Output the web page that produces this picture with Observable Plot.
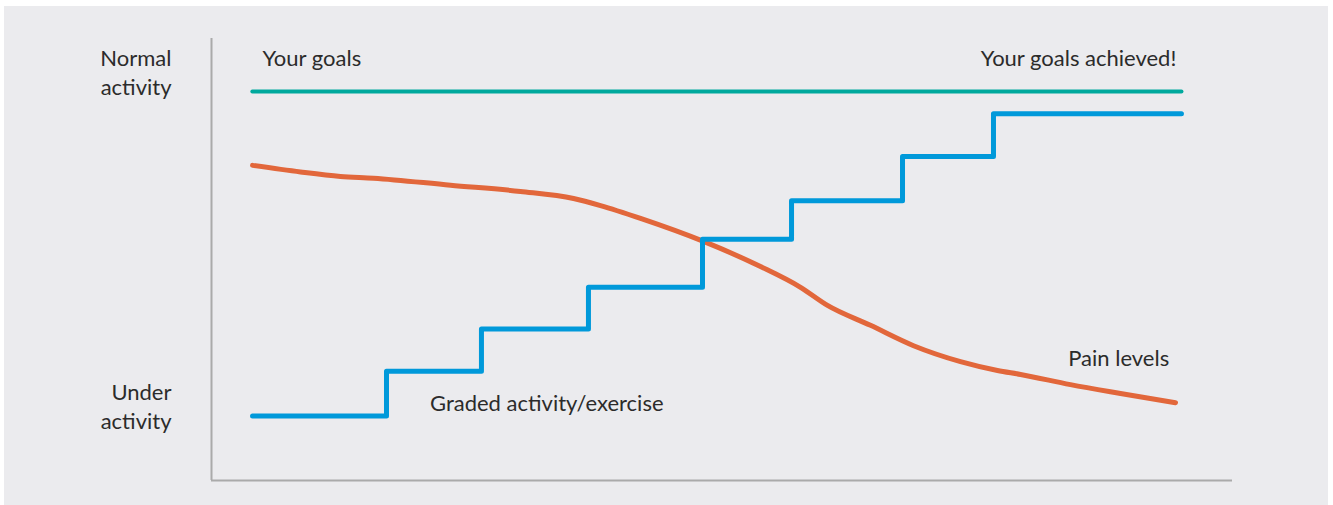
<!DOCTYPE html>
<html>
<head>
<meta charset="utf-8">
<script src="https://cdn.jsdelivr.net/npm/d3@7"></script>
<script src="https://cdn.jsdelivr.net/npm/@observablehq/plot@0.6"></script>
<style>
  html, body { margin: 0; padding: 0; background: #ffffff; }
  #wrap { position: absolute; left: 4px; top: 6px; width: 1324px; height: 499px; background: #ebebee; }
  svg { display: block; }
</style>
</head>
<body>
<div id="wrap"></div>
<script>
// Time axis (arbitrary units 0-100) and activity level (0-100)
const goalX = [4.0, 95.0];
const goalY = [88.0, 88.0];

const stepX = [4.02, 17.14, 26.44, 36.92, 48.09, 56.81, 67.68, 76.59, 95.0];
const stepY = [14.6, 24.7, 34.3, 43.7, 54.6, 63.3, 73.3, 83.0, 83.0];

const painX = [4.02, 8.72, 12.63, 15.87, 23.41, 30.26, 35.46, 38.10, 42.02, 48.19, 53.77, 57.69, 60.33, 64.54, 68.76, 73.36, 76.98, 79.24, 84.13, 89.03, 94.42];
const painY = [71.3, 69.8, 68.8, 68.4, 66.8, 65.4, 63.8, 62.2, 59.3, 54.1, 48.4, 43.7, 39.6, 35.1, 30.5, 26.9, 24.9, 24.0, 21.7, 19.7, 17.6];

const axisLabels = ["Normal\nactivity", "Under\nactivity"];
const axisLabelY = [92.6, 17.0];

const noteText = ["Your goals", "Your goals achieved!", "Graded activity/exercise", "Pain levels"];
const noteX = [5.0, 94.5, 21.4, 93.8];
const noteY = [95.4, 95.4, 17.4, 27.5];
const noteAnchor = ["start", "end", "start", "end"];

const goal = goalX.map((x, i) => ({x, y: goalY[i]}));
const steps = stepX.map((x, i) => ({x, y: stepY[i]}));
const pain = painX.map((x, i) => ({x, y: painY[i]}));
const axisL = axisLabels.map((t, i) => ({t, y: axisLabelY[i]}));
const notes = noteText.map((t, i) => ({t, x: noteX[i], y: noteY[i], a: noteAnchor[i]}));

const font = "Lato, 'Noto Sans', sans-serif";
const textColor = "#2b2b2b";

const chart = Plot.plot({
  width: 1324,
  height: 499,
  marginLeft: 207,
  marginRight: 96,
  marginTop: 32,
  marginBottom: 25,
  style: {background: "transparent", fontFamily: font},
  x: {domain: [0, 100], axis: null},
  y: {domain: [0, 100], axis: null},
  marks: [
    Plot.ruleX([0], {stroke: "#aaaaaa", strokeWidth: 2}),
    Plot.ruleY([0], {stroke: "#aaaaaa", strokeWidth: 2}),
    Plot.line(goal, {x: "x", y: "y", stroke: "#00a99d", strokeWidth: 4}),
    Plot.line(pain, {x: "x", y: "y", stroke: "#e2673b", strokeWidth: 5, curve: "monotone-x"}),
    Plot.line(steps, {x: "x", y: "y", stroke: "#0099da", strokeWidth: 5, curve: "step-after"}),
    Plot.text(axisL, {x: 0, y: "y", text: "t", dx: -40, textAnchor: "end", fontSize: 22, lineHeight: 1.3, fill: textColor}),
    Plot.text(notes.filter(d => d.a === "start"), {x: "x", y: "y", text: "t", textAnchor: "start", fontSize: 22, fill: textColor}),
    Plot.text(notes.filter(d => d.a === "end"), {x: "x", y: "y", text: "t", textAnchor: "end", fontSize: 22, fill: textColor})
  ]
});
document.getElementById("wrap").appendChild(chart);
</script>
</body>
</html>
